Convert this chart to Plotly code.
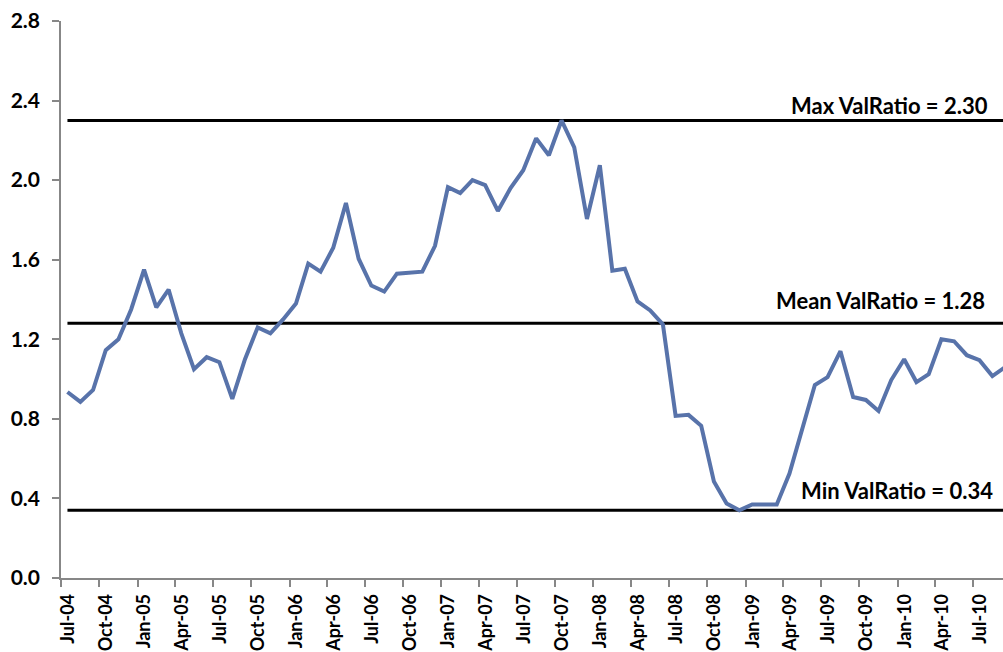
import plotly.graph_objects as go

# Monthly observations, Jul-2004 through Sep-2010
months = [
    "2004-07", "2004-08", "2004-09", "2004-10", "2004-11", "2004-12",
    "2005-01", "2005-02", "2005-03", "2005-04", "2005-05", "2005-06",
    "2005-07", "2005-08", "2005-09", "2005-10", "2005-11", "2005-12",
    "2006-01", "2006-02", "2006-03", "2006-04", "2006-05", "2006-06",
    "2006-07", "2006-08", "2006-09", "2006-10", "2006-11", "2006-12",
    "2007-01", "2007-02", "2007-03", "2007-04", "2007-05", "2007-06",
    "2007-07", "2007-08", "2007-09", "2007-10", "2007-11", "2007-12",
    "2008-01", "2008-02", "2008-03", "2008-04", "2008-05", "2008-06",
    "2008-07", "2008-08", "2008-09", "2008-10", "2008-11", "2008-12",
    "2009-01", "2009-02", "2009-03", "2009-04", "2009-05", "2009-06",
    "2009-07", "2009-08", "2009-09", "2009-10", "2009-11", "2009-12",
    "2010-01", "2010-02", "2010-03", "2010-04", "2010-05", "2010-06",
    "2010-07", "2010-08", "2010-09",
]

val_ratio = [
    0.935, 0.885, 0.945, 1.145, 1.20, 1.35,
    1.55, 1.36, 1.45, 1.23, 1.05, 1.11,
    1.085, 0.90, 1.10, 1.26, 1.23, 1.30,
    1.38, 1.58, 1.54, 1.66, 1.885, 1.605,
    1.47, 1.44, 1.53, 1.535, 1.54, 1.67,
    1.965, 1.935, 2.00, 1.975, 1.845, 1.96,
    2.05, 2.21, 2.125, 2.30, 2.165, 1.805,
    2.075, 1.545, 1.555, 1.39, 1.345, 1.275,
    0.815, 0.82, 0.765, 0.485, 0.375, 0.34,
    0.37, 0.37, 0.37, 0.525, 0.745, 0.97,
    1.01, 1.14, 0.91, 0.895, 0.84, 0.995,
    1.10, 0.985, 1.025, 1.20, 1.19, 1.12,
    1.095, 1.015, 1.06,
]

# Summary levels drawn as horizontal reference series
max_ratio = 2.30
mean_ratio = 1.28
min_ratio = 0.34

ref_levels = [
    ("Max ValRatio", max_ratio, 15, 0.986),
    ("Mean ValRatio", mean_ratio, 23, 0.983),
    ("Min ValRatio", min_ratio, 20, 0.991),
]

y_ticks = [0.0, 0.4, 0.8, 1.2, 1.6, 2.0, 2.4, 2.8]

FONT = "Lato"
LINE_BLUE = "#5873AA"
AXIS_GREY = "#878787"

fig = go.Figure()

for name, level, _, _ in ref_levels:
    fig.add_trace(go.Scatter(
        x=months, y=[level] * len(months),
        xperiod="M1", xperiodalignment="middle",
        mode="lines", line=dict(color="black", width=3),
        name=name, hoverinfo="skip",
    ))

fig.add_trace(go.Scatter(
    x=months, y=val_ratio,
    xperiod="M1", xperiodalignment="middle",
    mode="lines", line=dict(color=LINE_BLUE, width=4),
    name="ValRatio",
))

for name, level, shift, xpos in ref_levels:
    fig.add_annotation(
        text=f"{name} = {level:.2f}",
        xref="paper", x=xpos, xanchor="right",
        yref="y", y=level, yanchor="middle", yshift=shift,
        showarrow=False,
        font=dict(family=FONT, size=22, color="black", weight="bold"),
    )

fig.update_layout(
    width=1003, height=652,
    margin=dict(l=61, r=0, t=21, b=74),
    paper_bgcolor="white", plot_bgcolor="white",
    showlegend=False,
    font=dict(family=FONT, color="black"),
)

fig.update_xaxes(
    type="date",
    range=["2004-07-01", "2010-09-11"],
    tick0="2004-07-01", dtick="M3", tickformat="%b-%y",
    tickangle=-90,
    ticks="outside", ticklen=7, tickwidth=1.5, tickcolor=AXIS_GREY,
    ticklabelshift=7,
    tickfont=dict(family=FONT, size=18, color="black", weight="bold"),
    showline=True, linecolor=AXIS_GREY, linewidth=1.5,
    showgrid=False, zeroline=False,
    automargin=False,
)

fig.update_yaxes(
    range=[0, 2.8],
    tickmode="array", tickvals=y_ticks,
    ticktext=[f"{v:.1f}" for v in y_ticks],
    ticks="outside", ticklen=7, tickwidth=1.5, tickcolor=AXIS_GREY,
    ticklabelstandoff=8,
    tickfont=dict(family=FONT, size=21, color="black", weight="bold"),
    showline=True, linecolor=AXIS_GREY, linewidth=1.5,
    showgrid=False, zeroline=False,
    automargin=False,
)

fig.write_html("out.html")
